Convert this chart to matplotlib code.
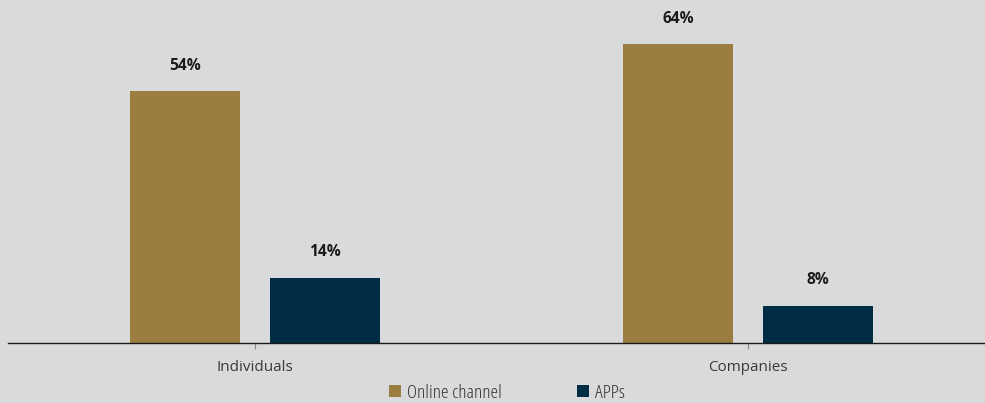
import matplotlib
matplotlib.use("Agg")
import matplotlib.pyplot as plt
from matplotlib.patches import Patch
import numpy as np

categories = ["Individuals", "Companies"]
series_names = ["Online channel", "APPs"]
online_channel = [54, 64]
apps = [14, 8]

BG = "#d9dadc"
GOLD = "#9b7d40"
NAVY = "#002d44"

plt.rcParams["font.family"] = ["Open Sans", "DejaVu Sans"]

W, H = 985, 403
fig = plt.figure(figsize=(W / 100, H / 100), dpi=100, facecolor=BG)
ax = fig.add_axes([8 / W, (H - 343) / H, 986 / W, 343 / H], facecolor=BG)

x = np.arange(len(categories))
bw = 0.223
off = 0.142
b1 = ax.bar(x - off, online_channel, bw, color=GOLD, label=series_names[0])
b2 = ax.bar(x + off, apps, bw, color=NAVY, label=series_names[1])

# value labels above each bar
for bars, vals in ((b1, online_channel), (b2, apps)):
    for rect, v in zip(bars, vals):
        ax.annotate(f"{v}%", (rect.get_x() + rect.get_width() / 2, v),
                    xytext=(0, 12.5), textcoords="offset points",
                    ha="center", va="bottom", fontsize=11.2, fontweight="bold",
                    fontstretch="normal", color="#1a1a1a")

ax.set_xlim(-0.501, 1.499)
ax.set_ylim(0, 73.5)
ax.set_xticks(x)
ax.set_xticklabels(categories, fontsize=11, color="#3a3a3a")
ax.tick_params(axis="x", length=4, width=0.8, color="#8a8a8a", pad=8)
ax.set_yticks([])
for s in ("top", "right", "left"):
    ax.spines[s].set_visible(False)
ax.spines["bottom"].set_color("#1a1a1a")
ax.spines["bottom"].set_linewidth(1.0)

handles = [Patch(facecolor=GOLD, edgecolor="none"), Patch(facecolor=NAVY, edgecolor="none")]
fig.legend(handles, series_names, loc="center", bbox_to_anchor=(507 / W, 1 - 393 / H),
           ncol=2, frameon=False,
           prop={"size": 14, "stretch": "condensed"},
           handlelength=0.62, handleheight=0.62,
           handletextpad=0.31, columnspacing=3.9, labelcolor="#333333")

fig.savefig("out.png", dpi=100, facecolor=BG)
